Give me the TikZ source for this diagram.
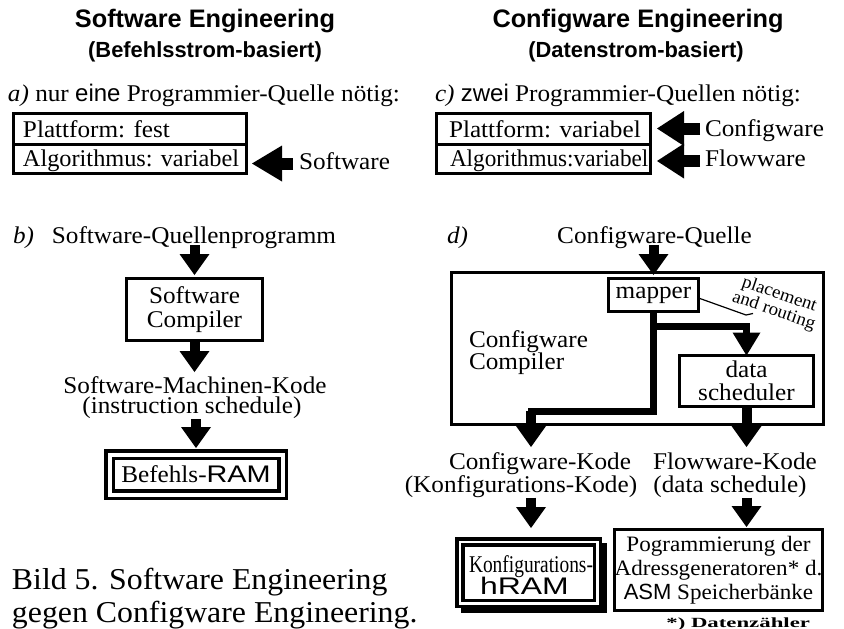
\documentclass[tikz,border=0pt]{standalone}
\usepackage{fontspec}
\setmainfont{Liberation Serif}[FakeStretch=1.05]
\setsansfont{Liberation Sans}
\usepackage{graphicx}
\usetikzlibrary{arrows.meta}
\newcommand{\fmain}{\fontsize{24pt}{23.5pt}\selectfont}
\begin{document}
\begin{tikzpicture}[x=1pt,y=-1pt,
  every node/.style={inner sep=0pt, outer sep=0pt},
  txt/.style={font=\fmain, text height=16.5pt, text depth=5.5pt, anchor=base},
  box/.style={draw, line width=3pt},
  dbox/.style={draw, line width=3.5pt, double, double distance=4pt},
  fatv/.style={line width=10pt, -{Triangle[width=30pt,length=21pt,line width=0pt]}},
  fath/.style={line width=12pt, -{Triangle[width=36pt,length=30pt,line width=0pt]}},
  fatc/.style={line width=12pt, -{Triangle[width=35pt,length=27pt,line width=0pt]}},
  route/.style={line width=7pt},
  title/.style={font=\fontsize{25.3pt}{27pt}\selectfont\bfseries\sffamily, anchor=base},
  subtitle/.style={font=\fontsize{21.9pt}{24pt}\selectfont\bfseries\sffamily, anchor=base}]
\useasboundingbox (0,0) rectangle (844,629);

% titles
\node[title] (t1) at (205,27.5) {Software Engineering};
\node[subtitle] (t1b) at (205,57) {(Befehlsstrom-basiert)};
\node[title] (t2) at (638,27.5) {Configware Engineering};
\node[subtitle] (t2b) at (636,57) {(Datenstrom-basiert)};

% a)
\node[txt, anchor=base west] (la) at (8,101) {\textit{a)} nur {\sffamily eine} Programmier-Quelle nötig:};
\node[box, minimum width=233pt, minimum height=30.5pt] (rA1) at (130,128.75) {};
\node[box, minimum width=233pt, minimum height=29.5pt] (rA2) at (130,158.75) {};
\node[txt, anchor=base west] (tA1) at (23,137) {Plattform: fest};
\node[txt, anchor=base west] (tA2) at (23,166) {\scalebox{0.965}[1]{Algorithmus: variabel}};
\node[txt, anchor=base west] (sw) at (299,169) {Software};
\draw[fath, shorten <=6pt, shorten >=5.5pt] (sw.west) -- (sw.west -| rA2.east);

% c)
\node[txt, anchor=base west] (lc) at (435,101) {\textit{c)} {\sffamily zwei} Programmier-Quellen nötig:};
\node[box, minimum width=214pt, minimum height=30.5pt] (rC1) at (543.5,128.75) {};
\node[box, minimum width=214pt, minimum height=29.5pt] (rC2) at (543.5,158.75) {};
\node[txt, anchor=base west] (tC1) at (449,137) {Plattform: variabel};
\node[txt, anchor=base west] (tC2) at (450,166) {\scalebox{0.92}[1]{Algorithmus:variabel}};
\node[txt, anchor=base west] (cw) at (705,136) {Configware};
\node[txt, anchor=base west] (fw) at (705,166.5) {Flowware};
\draw[fatc, shorten <=5pt, shorten >=6.5pt] ([yshift=2pt]cw.west) -- ([yshift=2pt]cw.west -| rC1.east);
\draw[fatc, shorten <=5pt, shorten >=6.5pt] (fw.west) -- (fw.west -| rC2.east);

% b)
\node[txt, anchor=base west] (lb) at (13,243) {\textit{b)}};
\node[txt] (qsw) at (194,243) {Software-Quellenprogramm};
\node[box, minimum width=136pt, minimum height=62pt, align=center, font=\fmain] (swc) at (194.5,309.5) {Software\\Compiler};
\node[txt] (mk) at (195,393) {Software-Machinen-Kode};
\node[txt] (mk2) at (192,413.5) {(instruction schedule)};
\node[dbox, minimum width=173pt, minimum height=40pt, font=\fmain] (ram) at (196,474.5) {Befehls-{\sffamily\scalebox{1.2}[1]{RAM}}};
\draw[fatv, shorten <=-3.5pt, shorten >=3.5pt] (qsw.south -| swc.north) -- (swc.north);
\draw[fatv, shorten >=4.5pt] (swc.south) -- (swc.south |- mk.north);
\draw[fatv, shorten >=6.5pt] (ram.north |- mk2.south) -- (ram.north);

% d)
\node[txt, anchor=base west] (ld) at (447,243) {\textit{d)}};
\node[txt] (cq) at (654.5,243) {Configware-Quelle};
\node[box, minimum width=372pt, minimum height=152pt] (cc) at (637.5,348.5) {};
\node[txt, anchor=base west] (cc1) at (469,347.5) {Configware};
\node[txt, anchor=base west] (cc2) at (469,369) {Compiler};
\node[box, minimum width=90pt, minimum height=33pt, font=\fmain] (mapper) at (653.5,295) {mapper};
\node[box, minimum width=134pt, minimum height=51pt, align=center, font=\fmain] (ds) at (746.5,381) {data\\scheduler};
\node[rotate=-19, align=center, font=\fontsize{18pt}{15pt}\selectfont] (pr) at (776.5,303) {placement\\and routing};
\coordinate (ld1) at (746,315);
\coordinate (ld2) at (753,313.5);
\draw[line width=1.2pt] ([yshift=-3pt]mapper.east) -- (ld1) -- (ld2);
\draw[fatv, shorten <=-3.5pt, shorten >=3.5pt] (cq.south -| mapper.north) -- (mapper.north);

\coordinate (cL) at (531,411);
\coordinate (cL2) at (531,422);
\coordinate (j1) at (653.5,326);
\draw[route] (mapper.south) |- (cL) -- (cL2);
\draw[route, -{Triangle[width=28pt,length=23pt,line width=0pt]}] (j1) -| (ds.north);

\node[txt] (ck) at (540,469) {Configware-Kode};
\node[txt] (ck2) at (521,492) {(Konfigurations-Kode)};
\node[txt] (fk) at (735,469) {Flowware-Kode};
\node[txt] (fk2) at (730,492) {(data schedule)};
\draw[fatv, shorten >=5.5pt] (cL) -- (cL |- ck.north);
\draw[fatv, shorten >=5.5pt] (ds.south) -- (ds.south |- fk.north);

% bottom right boxes
\node[draw, line width=3.5pt, double, double distance=2.5pt, minimum width=137.5pt, minimum height=61.5pt] (hram) at (528.5,572.5) {};
\fill (602,543) rectangle (607,613);
\fill (461,608) rectangle (607,613);
\node[txt] (hk1) at (531,572) {\scalebox{0.77}[1]{Konfigurations-}};
\node[txt, font=\fontsize{24pt}{24pt}\selectfont\sffamily] (hk2) at (524.5,594.5) {\scalebox{1.33}[1]{hRAM}};
\node[box, minimum width=206pt, minimum height=81pt, align=center, font=\fontsize{22pt}{24pt}\selectfont] (prog) at (718.5,570) {Pogrammierung der\\Adressgeneratoren* d.\\{\sffamily ASM} Speicherbänke};
\draw[fatv, shorten >=13.75pt] (cL |- ck2.south) -- (cL |- hram.north);
\draw[fatv, shorten >=2.5pt] (ds.south |- fk2.south) -- (ds.south |- prog.north);
\node[anchor=base east, font=\fontsize{14pt}{14pt}\selectfont\bfseries] (dz) at (810,627.5) {\scalebox{1.55}[1]{*) Datenzähler}};

% caption
\node[anchor=base west, font=\fontsize{30.3pt}{33pt}\selectfont] (cap1) at (12,589.5) {Bild 5. Software Engineering};
\node[anchor=base west, font=\fontsize{30.3pt}{33pt}\selectfont] (cap2) at (12,622.5) {gegen Configware Engineering.};
\end{tikzpicture}
\end{document}
